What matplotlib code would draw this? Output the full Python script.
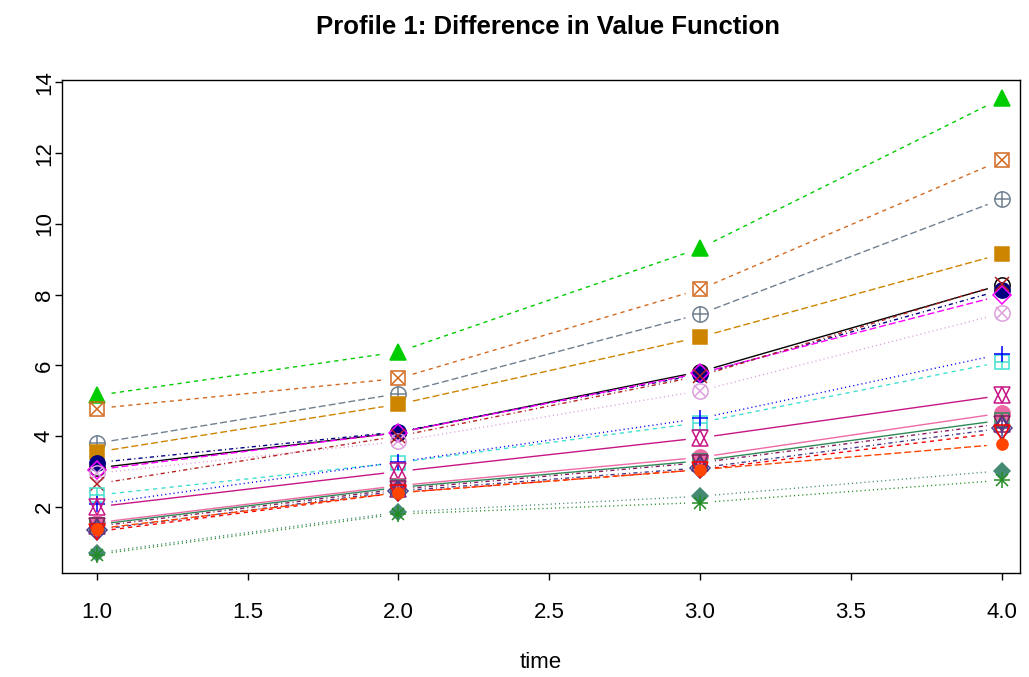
import numpy as np
import matplotlib.pyplot as plt

plt.rcParams['font.family'] = ['Liberation Sans', 'DejaVu Sans']

time = [1, 2, 3, 4]

# one list of values per profile line
s01 = [5.15, 6.38, 9.31, 13.55]
s02 = [4.78, 5.63, 8.15, 11.80]
s03 = [3.80, 5.20, 7.45, 10.70]
s04 = [3.55, 4.90, 6.80, 9.15]
s05 = [3.10, 4.10, 5.82, 8.28]
s06 = [3.25, 4.12, 5.75, 8.13]
s07 = [3.05, 4.10, 5.78, 7.98]
s08 = [2.95, 3.85, 5.28, 7.47]
s09 = [2.65, 4.00, 5.70, 8.30]
s10 = [2.33, 3.25, 4.38, 6.10]
s11 = [2.08, 3.27, 4.50, 6.32]
s12 = [2.00, 3.00, 3.95, 5.15]
s13 = [1.55, 2.60, 3.40, 4.65]
s14 = [1.50, 2.55, 3.30, 4.45]
s15 = [1.45, 2.50, 3.25, 4.35]
s16 = [1.35, 2.45, 3.10, 4.22]
s17 = [1.30, 2.40, 3.05, 4.10]
s18 = [1.38, 2.40, 3.05, 3.77]
s19 = [0.70, 1.85, 2.30, 3.02]
s20 = [0.65, 1.80, 2.12, 2.75]
series = [s01, s02, s03, s04, s05, s06, s07, s08, s09, s10,
          s11, s12, s13, s14, s15, s16, s17, s18, s19, s20]

colors = ["#00CD00", "#D2691E", "#708090", "#CD8500", "#000000",
          "#000080", "#FF00FF", "#DDA0DD", "#B22222", "#40E0D0",
          "#0000FF", "#C71585", "#EE6AA7", "#2E8B57", "#8B1C62",
          "#483D8B", "#FF0000", "#FF4500", "#458B74", "#228B22"]

# R-like line types as dash patterns (on, off, ...)
dashed = (3, 3)
dotted = (0.8, 2.2)
dotdash = (0.8, 2.2, 3, 2.2)
longdash = (5, 2.2)
solid = None
ltys = [dashed, dashed, longdash, longdash, solid,
        dotdash, longdash, dotted, dotdash, dashed,
        dotted, solid, solid, solid, dotdash,
        dotdash, dashed, longdash, dotted, dotted]

# marker layers: (marker, filled, size)
pch = [
    [('^', True, 11)],
    [('s', False, 10), ('x', False, 9)],
    [('o', False, 11), ('+', False, 11)],
    [('s', True, 10)],
    [('o', False, 11)],
    [('o', True, 11)],
    [('D', False, 9)],
    [('o', False, 11), ('x', False, 8)],
    [('x', False, 10)],
    [('s', False, 10), ('+', False, 10)],
    [('+', False, 12)],
    [('^', False, 11), ('v', False, 11)],
    [('o', True, 11)],
    [('s', False, 10), ('^', False, 9)],
    [('^', False, 11), ('v', False, 11)],
    [('D', False, 10), ('+', False, 12)],
    [('v', False, 11)],
    [('o', True, 8)],
    [('D', True, 8)],
    [('+', False, 12), ('x', False, 9)],
]

fig = plt.figure(figsize=(10.29, 6.77), dpi=100)
ax = fig.add_axes([0.060, 0.1536, 0.931, 0.7284])
ax.set_xlim(0.884, 4.06)
ax.set_ylim(0.13, 14.07)

trans = ax.transData
inv = trans.inverted()
gap = 15  # px gap between line ends and points, like R type="b"

for vals, col, lty in zip(series, colors, ltys):
    pts = trans.transform(np.column_stack([time, vals]))
    for a, b in zip(pts[:-1], pts[1:]):
        d = b - a
        u = d / np.hypot(*d)
        seg = inv.transform([a + u * gap, b - u * gap])
        ln, = ax.plot(seg[:, 0], seg[:, 1], color=col, lw=1.0)
        if lty is not None:
            ln.set_dashes(lty)

for vals, col, layers in zip(series, colors, pch):
    for m, filled, ms in layers:
        ax.plot(time, vals, ls='none', marker=m, ms=ms,
                mfc=col if filled else 'none', mec=col,
                mew=1.1)

ax.set_xticks([1.0, 1.5, 2.0, 2.5, 3.0, 3.5, 4.0])
ax.set_xticklabels(['1.0', '1.5', '2.0', '2.5', '3.0', '3.5', '4.0'])
ax.set_yticks([2, 4, 6, 8, 10, 12, 14])
for lab in ax.get_yticklabels():
    lab.set_rotation(90)
    lab.set_va('center')
ax.tick_params(direction='out', length=5, width=1, labelsize=16)
ax.tick_params(axis='x', pad=16)
ax.tick_params(axis='y', pad=0)
for sp in ax.spines.values():
    sp.set_linewidth(1)

ax.set_xlabel('time', fontsize=16, labelpad=21)
ax.set_title('Profile 1: Difference in Value Function', fontsize=18.5,
             fontweight='bold', pad=33, x=0.508)

fig.savefig('out.png', dpi=100)
